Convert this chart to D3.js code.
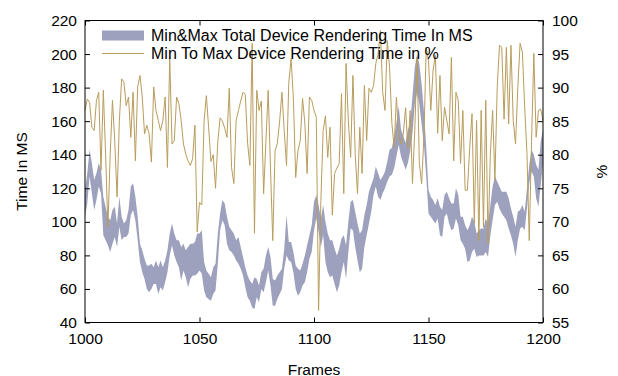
<!DOCTYPE html>
<html>
<head>
<meta charset="utf-8">
<script src="https://cdn.jsdelivr.net/npm/d3@7/dist/d3.min.js"></script>
<style>
	body { margin: 0; background: #fff; }
	svg { font-family: 'Liberation Sans', Arial, sans-serif; }
	.tick text { font-size: 15.5px; fill: #000; }
	.axis-label { font-size: 15.5px; fill: #000; }
	.legend text { font-size: 16px; fill: #000; }
</style>
</head>
<body>
<svg width="618" height="376"></svg>
<script>
// frames 1000..1200, one reading per frame
const frames = d3.range(1000, 1201);

const minTime = [
	103,111,127,117,107,113,121,117,92,89, 86,82,87,91,85,97,89,91,91,93,
	104,107,101,89,76,70,66,60,58,60, 63,63,57,61,59,64,70,80,86,80,
	76,73,65,71,67,61,66,68,68,69, 71,69,59,55,54,53,57,59,75,95,
	101,98,87,83,82,80,77,75,72,68, 61,55,53,49,48,55,52,60,58,64,
	71,62,50,50,54,57,60,72,80,77, 76,70,60,56,58,62,64,70,78,82,
	95,102,94,85,92,76,70,67,68,63, 58,62,70,76,66,82,96,95,85,77,
	70,72,85,92,99,106,116,121,115,113, 117,120,124,127,128,132,139,146,139,135,
	131,135,142,153,170,177,170,158,146,127, 105,103,101,99,102,92,91,103,105,99,
	95,96,102,98,89,87,84,76,77,82, 84,79,80,80,80,82,79,92,101,110,
	112,108,105,103,101,96,92,87,79,89, 96,97,95,108,123,130,127,114,109,122,
	135
];
const maxTime = [
	119,129,143,135,125,129,135,131,115,109, 103,101,107,109,99,115,103,99,101,107,
	121,123,115,103,87,83,78,74,74,75, 73,77,73,77,73,77,83,93,99,93,
	89,89,85,87,83,85,87,87,88,93, 93,95,76,71,69,67,73,75,93,105,
	113,111,103,97,95,93,89,91,85,79, 73,68,65,63,67,66,62,70,72,80,
	85,79,66,65,68,70,72,84,104,88, 88,82,74,72,71,75,80,86,92,98,
	112,116,110,102,110,100,93,89,89,84, 80,84,90,92,86,100,112,113,106,99,
	93,95,104,110,118,122,126,133,129,125, 127,130,136,143,144,151,159,169,155,151,
	147,155,158,175,192,200,194,182,166,145, 119,115,113,110,114,109,107,116,118,114,
	111,111,120,116,103,103,98,95,98,103, 100,93,95,96,96,102,99,110,121,127,
	124,121,118,118,118,114,108,103,97,106, 107,110,106,120,134,143,140,134,131,148,
	155
];
const minToMaxPct = [
	86.6,88.3,87.8,84.1,83.6,88.1,89.3,77.7,89.6,80, 69.2,80,88.1,82,73.7,85,91.3,90.8,87.3,88.6,
	82.6,89.3,79.1,90.1,91.8,88.6,83.1,84.4,83.1,78.9, 90.1,86.6,85.1,83.6,85.1,88.6,78.1,94.5,81.6,82.1,
	88.6,87.6,85.1,81.6,80.1,79.1,78.4,79.4,84.4,68.5, 72.9,72.5,85,88.8,84,79,80,75,82,85.5,
	85,84,82.6,89.9,78.1,75.7,85.1,86.6,88,89.3, 89,81.7,78.4,96.6,68.3,89.6,86.6,88,74.2,82,
	89.6,78,67.2,80.6,81.7,85,89.3,83.6,78.4,90.8, 94.3,88.4,76.6,80.6,82.1,88.4,84.7,77.2,88.6,88.1,
	86.6,85.6,56.8,73.2,83.6,85.8,79.6,84.1,71,77.2, 78,78.7,89.1,74.2,93.6,85,79.6,91.8,80,74.2,
	84.1,77.2,90.3,82.1,89.9,89.3,90.3,93.6,95,98.5, 89.3,86.6,97,93,84.7,81.1,88.6,82.6,81.6,83.1,
	87,80.9,86.6,75.7,83.6,94.5,78.7,75.7,82.6,96, 94,86.6,92.6,94.8,83.2,91.8,82.1,87.1,85.1,83.1,
	94.5,79.1,89.3,88.1,78.7,86.6,74.7,74.7,81.1,86.1, 69.8,85.1,67.2,86.6,69.2,88.1,66.8,80,86.6,76.2,
	90,96.3,96,85.3,96,84.6,96.3,85.1,81.6,90, 96.6,95.3,87.1,80.2,67.2,82,95.1,82.6,86.6,86.8,
	85.1
];

const xTicks = [1000, 1050, 1100, 1150, 1200];
const timeTicks = [40, 60, 80, 100, 120, 140, 160, 180, 200, 220];
const pctTicks = [55, 60, 65, 70, 75, 80, 85, 90, 95, 100];
const legendLabels = ['Min&Max Total Device Rendering Time In MS', 'Min To Max Device Rendering Time in %'];

const svg = d3.select('svg');
const width = +svg.attr('width');
const height = +svg.attr('height');

const render = () => {
	const margin = {top: 20.5, right: 75, bottom: 53.5, left: 85};
	const innerWidth = width - margin.left - margin.right;
	const innerHeight = height - margin.top - margin.bottom;
	const bandColor = '#9ea1bd';
	const lineColor = '#b89d5c';

	const data = frames.map((f, i) => ({frame: f, lo: minTime[i], hi: maxTime[i], pct: minToMaxPct[i]}));

	const xScale = d3.scaleLinear().domain([1000, 1200]).range([0, innerWidth]);
	const yScale = d3.scaleLinear().domain([40, 220]).range([innerHeight, 0]);
	const y2Scale = d3.scaleLinear().domain([55, 100]).range([innerHeight, 0]);

	const g = svg.append('g')
		.attr('transform', `translate(${margin.left}, ${margin.top})`);

	const area = d3.area()
		.x(d => xScale(d.frame))
		.y0(d => yScale(d.lo))
		.y1(d => yScale(d.hi));

	g.append('path')
		.datum(data)
		.attr('fill', bandColor)
		.attr('d', area);

	const line = d3.line()
		.x(d => xScale(d.frame))
		.y(d => y2Scale(d.pct));

	g.append('path')
		.datum(data)
		.attr('fill', 'none')
		.attr('stroke', lineColor)
		.attr('stroke-width', 1)
		.attr('d', line);

	// axes, ticks pointing inward like gnuplot
	g.append('g')
		.attr('transform', `translate(0, ${innerHeight})`)
		.call(d3.axisBottom(xScale).tickValues(xTicks).tickFormat(d3.format('d'))
			.tickSizeInner(-5).tickSizeOuter(0).tickPadding(10));
	g.append('g')
		.call(d3.axisTop(xScale).tickValues(xTicks).tickSizeInner(-5).tickSizeOuter(0).tickFormat(''));
	g.append('g')
		.call(d3.axisLeft(yScale).tickValues(timeTicks).tickSizeInner(-5).tickSizeOuter(0).tickPadding(8));
	g.append('g')
		.attr('transform', `translate(${innerWidth}, 0)`)
		.call(d3.axisRight(y2Scale).tickValues(pctTicks).tickSizeInner(-5).tickSizeOuter(0).tickPadding(9));

	g.selectAll('.domain').remove();
	g.selectAll('.tick line').attr('stroke', '#000');

	g.append('rect')
		.attr('width', innerWidth)
		.attr('height', innerHeight)
		.attr('fill', 'none')
		.attr('stroke', '#000')
		.attr('stroke-width', 1);

	g.append('text')
		.attr('class', 'axis-label')
		.attr('x', innerWidth / 2)
		.attr('y', innerHeight + 52)
		.attr('text-anchor', 'middle')
		.text('Frames');

	g.append('text')
		.attr('class', 'axis-label')
		.attr('transform', `rotate(-90)`)
		.attr('x', -innerHeight / 2)
		.attr('y', -58)
		.attr('text-anchor', 'middle')
		.text('Time In MS');

	g.append('text')
		.attr('class', 'axis-label')
		.attr('transform', `translate(${innerWidth + 64}, ${innerHeight / 2}) rotate(-90)`)
		.attr('text-anchor', 'middle')
		.text('%');

	// legend
	const legend = g.append('g')
		.attr('class', 'legend')
		.attr('transform', 'translate(17, 0)');

	legend.append('rect')
		.attr('x', 0)
		.attr('y', 10)
		.attr('width', 42)
		.attr('height', 10)
		.attr('fill', bandColor);

	legend.append('line')
		.attr('x1', 0)
		.attr('x2', 42)
		.attr('y1', 33)
		.attr('y2', 33)
		.attr('stroke', lineColor);

	legend.selectAll('text').data(legendLabels)
		.enter().append('text')
			.attr('x', 49)
			.attr('y', (d, i) => 15 + i * 17.6)
			.attr('dy', '0.35em')
			.text(d => d);
};

render();
</script>
</body>
</html>
